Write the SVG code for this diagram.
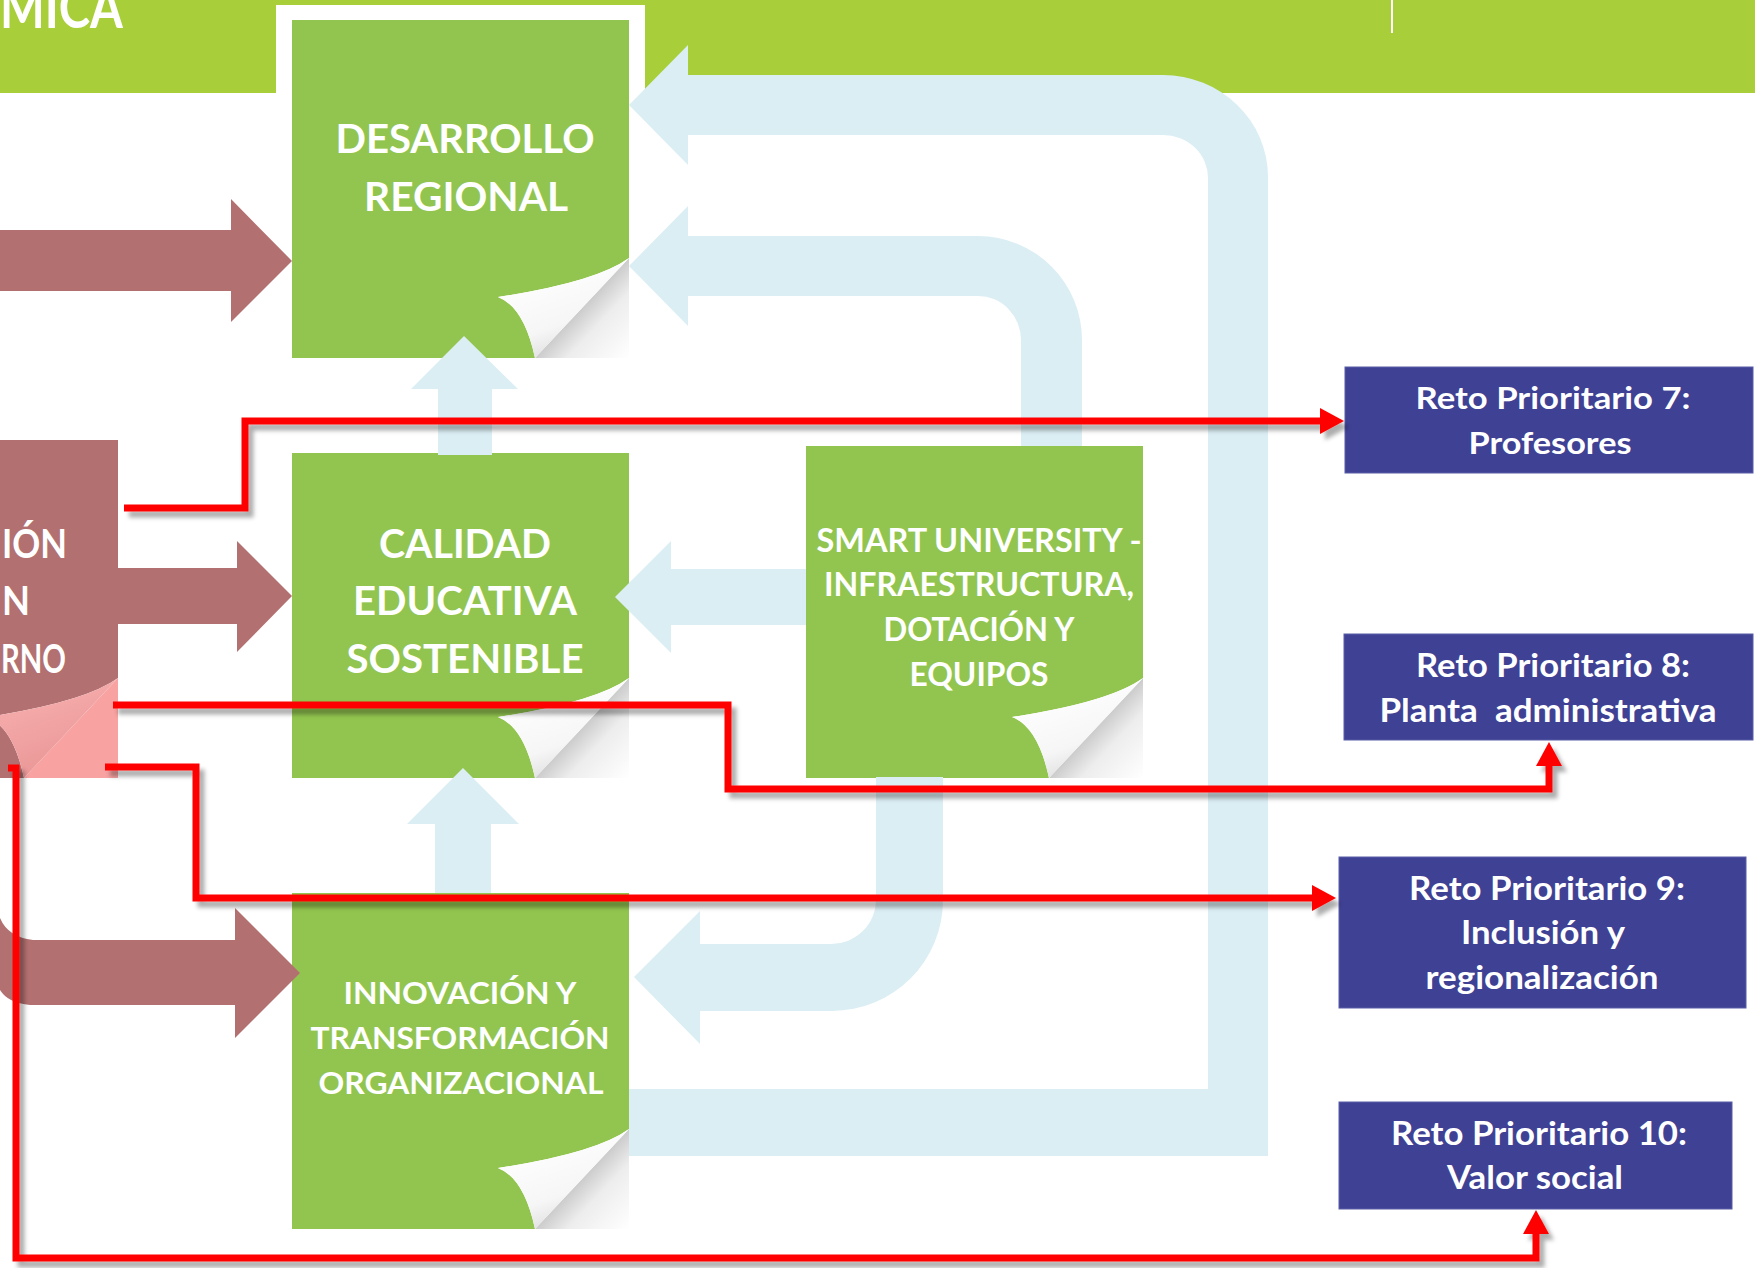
<svg xmlns="http://www.w3.org/2000/svg" width="1755" height="1268" viewBox="0 0 1755 1268">
<style>
.g{fill:#92C54F}
.t{font-family:Lato,'Open Sans','DejaVu Sans',sans-serif;font-weight:700;fill:#FFFFFF;text-anchor:middle}
.blue{fill:#DBEEF4}
.brown{fill:#B37070}
.reto{fill:#3F4194;stroke:#5B5DA8;stroke-width:1}
.red{fill:none;stroke:#FF0000;stroke-width:7;stroke-linejoin:miter;marker-end:url(#ah);filter:url(#sh)}
</style>
<defs>
<filter id="sh" filterUnits="userSpaceOnUse" x="0" y="0" width="1755" height="1268">
<feDropShadow dx="5" dy="6" stdDeviation="2" flood-color="#000000" flood-opacity="0.32"/>
</filter>
<marker id="ah" markerUnits="userSpaceOnUse" markerWidth="24" markerHeight="26" viewBox="0 0 24 26" refX="0" refY="13" orient="auto">
<path d="M0,0 L24,13 L0,26 Z" fill="#FF0000"/>
</marker>
<linearGradient id="leafG" x1="0.3" y1="0.1" x2="0.7" y2="1">
<stop offset="0" stop-color="#FFFFFF"/>
<stop offset="0.6" stop-color="#F6F6F6"/>
<stop offset="1" stop-color="#D6D6D6"/>
</linearGradient>
<linearGradient id="shG" x1="0.45" y1="0.45" x2="1" y2="1">
<stop offset="0" stop-color="#C2C2C2"/>
<stop offset="0.4" stop-color="#EDEDED"/>
<stop offset="1" stop-color="#FFFFFF"/>
</linearGradient>
<linearGradient id="leafP" x1="0.3" y1="0.1" x2="0.7" y2="1">
<stop offset="0" stop-color="#F7AEAE"/>
<stop offset="1" stop-color="#E89393"/>
</linearGradient>
<g id="curl">
<path d="M0,-100 L0,0 L-94,0 Z" fill="url(#shG)"/>
<path d="M0,-100 Q-33,-76 -131,-61 Q-105,-51 -94,0 Z" fill="url(#leafG)"/>
</g>
<g id="curlP">
<path d="M0,-100 L0,0 L-94,0 Z" fill="#F8A2A2"/>
<path d="M0,-100 Q-33,-76 -131,-61 Q-105,-51 -94,0 Z" fill="url(#leafP)"/>
</g>
</defs>

<rect x="0" y="0" width="1755" height="1268" fill="#FFFFFF"/>

<g id="banner">
<rect x="0" y="0" width="1755" height="93" fill="#A8CF3A"/>
<rect x="276" y="5" width="369" height="95" fill="#FFFFFF"/>
<rect x="1391" y="0" width="2" height="33" fill="#FFFFFF"/>
<text class="t" x="0" y="28" font-size="58" textLength="123" lengthAdjust="spacingAndGlyphs" style="text-anchor:start">MICA</text>
</g>

<g id="node-gestion">
<path class="brown" d="M0,440 H118 V678 Q85,702 -13,717 Q13,727 24,778 H0 Z"/>
<use href="#curlP" transform="translate(118,778)"/>
<text class="t" x="2" y="558" font-size="41" textLength="65" lengthAdjust="spacingAndGlyphs" style="text-anchor:start">IÓN</text>
<text class="t" x="2" y="615" font-size="41" textLength="28" lengthAdjust="spacingAndGlyphs" style="text-anchor:start">N</text>
<text class="t" x="1" y="673" font-size="41" textLength="65" lengthAdjust="spacingAndGlyphs" style="text-anchor:start">RNO</text>
</g>

<g id="node-desarrollo">
<path class="g" d="M292,20 H629 V258 Q596,282 498,297 Q524,307 535,358 H292 Z"/>
<use href="#curl" transform="translate(629,358)"/>
<text class="t" x="465" y="153" font-size="41" textLength="259" lengthAdjust="spacingAndGlyphs">DESARROLLO</text>
<text class="t" x="466" y="211" font-size="41" textLength="204" lengthAdjust="spacingAndGlyphs">REGIONAL</text>
</g>

<g id="node-calidad">
<path class="g" d="M292,453 H629 V678 Q596,702 498,717 Q524,727 535,778 H292 Z"/>
<use href="#curl" transform="translate(629,778)"/>
<text class="t" x="465" y="558" font-size="41" textLength="172" lengthAdjust="spacingAndGlyphs">CALIDAD</text>
<text class="t" x="465" y="615" font-size="41" textLength="224" lengthAdjust="spacingAndGlyphs">EDUCATIVA</text>
<text class="t" x="465" y="673" font-size="41" textLength="237" lengthAdjust="spacingAndGlyphs">SOSTENIBLE</text>
</g>

<g id="node-smart">
<path class="g" d="M806,446 H1143 V678 Q1110,702 1012,717 Q1038,727 1049,778 H806 Z"/>
<use href="#curl" transform="translate(1143,778)"/>
<text class="t" x="979" y="552" font-size="32" textLength="325" lengthAdjust="spacingAndGlyphs">SMART UNIVERSITY -</text>
<text class="t" x="979" y="596" font-size="32" textLength="310" lengthAdjust="spacingAndGlyphs">INFRAESTRUCTURA,</text>
<text class="t" x="979" y="641" font-size="32" textLength="191" lengthAdjust="spacingAndGlyphs">DOTACIÓN Y</text>
<text class="t" x="979" y="686" font-size="32" textLength="139" lengthAdjust="spacingAndGlyphs">EQUIPOS</text>
</g>

<g id="node-innovacion">
<path class="g" d="M292,893 H629 V1129 Q596,1153 498,1168 Q524,1178 535,1229 H292 Z"/>
<use href="#curl" transform="translate(629,1229)"/>
<text class="t" x="460" y="1004" font-size="31" textLength="233" lengthAdjust="spacingAndGlyphs">INNOVACIÓN Y</text>
<text class="t" x="460" y="1049" font-size="31" textLength="299" lengthAdjust="spacingAndGlyphs">TRANSFORMACIÓN</text>
<text class="t" x="461" y="1094" font-size="31" textLength="285" lengthAdjust="spacingAndGlyphs">ORGANIZACIONAL</text>
</g>

<g id="node-reto7">
<rect class="reto" x="1345" y="367" width="408" height="106"/>
<text class="t" x="1553" y="409" font-size="31" textLength="275" lengthAdjust="spacingAndGlyphs">Reto Prioritario 7:</text>
<text class="t" x="1550" y="454" font-size="31" textLength="163" lengthAdjust="spacingAndGlyphs">Profesores</text>
</g>

<g id="node-reto8">
<rect class="reto" x="1344" y="634" width="409" height="106"/>
<text class="t" x="1553" y="677" font-size="32" textLength="274" lengthAdjust="spacingAndGlyphs">Reto Prioritario 8:</text>
<text class="t" x="1548" y="722" font-size="32" textLength="337" lengthAdjust="spacingAndGlyphs" xml:space="preserve">Planta  administrativa</text>
</g>

<g id="node-reto9">
<rect class="reto" x="1339" y="857" width="407" height="151"/>
<text class="t" x="1547" y="900" font-size="32" textLength="276" lengthAdjust="spacingAndGlyphs">Reto Prioritario 9:</text>
<text class="t" x="1543" y="944" font-size="32" textLength="164" lengthAdjust="spacingAndGlyphs">Inclusión y</text>
<text class="t" x="1542" y="989" font-size="32" textLength="233" lengthAdjust="spacingAndGlyphs">regionalización</text>
</g>

<g id="node-reto10">
<rect class="reto" x="1339" y="1102" width="393" height="107"/>
<text class="t" x="1539" y="1145" font-size="32" textLength="296" lengthAdjust="spacingAndGlyphs">Reto Prioritario 10:</text>
<text class="t" x="1535" y="1189" font-size="32" textLength="176" lengthAdjust="spacingAndGlyphs">Valor social</text>
</g>

<g id="connectors">
<path class="blue" d="M629,1156 H1268 V177 A105,102 0 0 0 1163,75 H688 V45 L629,105 L688,165 V135 H1163 A45,43 0 0 1 1208,178 V1089 H629 Z"/>
<path class="blue" d="M1082,446 V340 A104,104 0 0 0 978,236 H688 V206 L629,266 L688,326 V296 H978 A43,44 0 0 1 1021,340 V446 Z"/>
<path class="blue" d="M806,569 H671 V541 L615,597 L671,653 V625 H806 Z"/>
<path class="blue" d="M876,777 V900 A45,44 0 0 1 831,944 H700 V911 L634,977 L700,1044 V1011 H832 A111,111 0 0 0 943,900 V777 Z"/>
<path class="blue" d="M438,455 V389 H411 L464,336 L518,389 H492 V455 Z"/>
<path class="blue" d="M435,893 V824 H407 L463,768 L519,824 H491 V893 Z"/>

<path class="brown" d="M0,230 H231 V199 L292,261 L231,322 V291 H0 Z"/>
<path class="brown" d="M117,568 H237 V541 L292,596 L237,652 V624 H117 Z"/>
<path class="brown" d="M0,918 Q8,937 33,940 H235 V908 L300,973 L235,1038 V1005 H30 Q8,1003 0,990 Z"/>

<path class="red" d="M124,508 H245 V421 H1320"/>
<path class="red" d="M113,705 H728 V789 H1549 V766"/>
<path class="red" d="M105,767 H196 V898 H1312"/>
<path class="red" d="M8,768 H16 V1258 H1536 V1234"/>
</g>
</svg>
